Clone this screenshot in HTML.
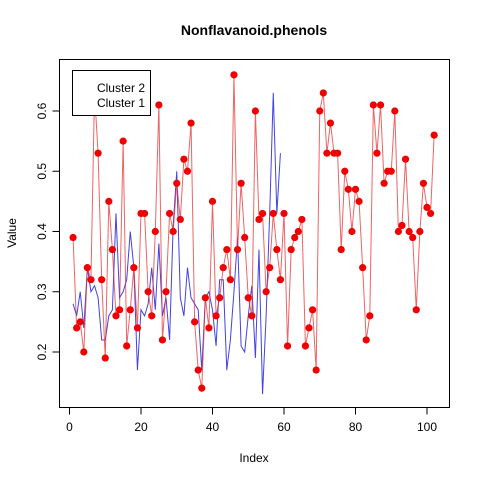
<!DOCTYPE html>
<html><head><meta charset="utf-8"><style>
html,body{margin:0;padding:0;background:#fff;}
svg{display:block;font-family:"Liberation Sans",Arial,sans-serif;}
</style></head><body>
<svg id="chart" width="480" height="480" viewBox="0 0 480 480">
<rect x="0" y="0" width="480" height="480" fill="#fff"/>
<text x="254" y="35" text-anchor="middle" font-size="14" font-weight="bold">Nonflavanoid.phenols</text>
<text x="254" y="462" text-anchor="middle" font-size="12">Index</text>
<text transform="translate(16,233) rotate(-90)" text-anchor="middle" font-size="12">Value</text>
<g id="xaxis"></g>
<g id="yaxis"></g>
<g id="series"></g>
<rect x="59.5" y="59.5" width="390" height="348" fill="none" stroke="#000" stroke-width="1"/>
<g>
<rect x="72.5" y="70.5" width="78" height="45" fill="#fff" stroke="#000"/>
<text x="145" y="92" text-anchor="end" font-size="12">Cluster 2</text>
<text x="145" y="107" text-anchor="end" font-size="12">Cluster 1</text>
</g>
</svg>
<script>
const xTicks = [0, 20, 40, 60, 80, 100];
const yTicks = [0.2, 0.3, 0.4, 0.5, 0.6];
const cluster1Values = [0.28,0.26,0.30,0.24,0.34,0.30,0.31,0.29,0.22,0.22,0.26,0.27,0.43,0.29,0.30,0.32,0.40,0.34,0.17,0.27,0.26,0.28,0.34,0.27,0.38,0.26,0.29,0.22,0.41,0.50,0.29,0.26,0.34,0.29,0.28,0.27,0.17,0.29,0.30,0.27,0.21,0.32,0.32,0.17,0.22,0.30,0.39,0.21,0.20,0.26,0.31,0.19,0.37,0.13,0.26,0.43,0.63,0.43,0.53];
const cluster2Values = [0.39,0.24,0.25,0.20,0.34,0.32,0.63,0.53,0.32,0.19,0.45,0.37,0.26,0.27,0.55,0.21,0.27,0.34,0.24,0.43,0.43,0.30,0.26,0.40,0.61,0.22,0.30,0.43,0.40,0.48,0.42,0.52,0.50,0.58,0.25,0.17,0.14,0.29,0.24,0.45,0.26,0.29,0.34,0.37,0.32,0.66,0.37,0.48,0.39,0.29,0.26,0.60,0.42,0.43,0.30,0.34,0.43,0.37,0.32,0.43,0.21,0.37,0.39,0.40,0.42,0.21,0.24,0.27,0.17,0.60,0.63,0.53,0.58,0.53,0.53,0.37,0.50,0.47,0.40,0.47,0.45,0.34,0.22,0.26,0.61,0.53,0.61,0.48,0.50,0.50,0.60,0.40,0.41,0.52,0.40,0.39,0.27,0.40,0.48,0.44,0.43,0.56];
const NS='http://www.w3.org/2000/svg';
function xs(i){return 69.5+i*3.575;}
function ys(v){return 352-(v-0.2)*602.5;}
function mk(tag,attrs,parent){const e=document.createElementNS(NS,tag);for(const k in attrs)e.setAttribute(k,attrs[k]);parent.appendChild(e);return e;}
const xa=document.getElementById('xaxis'),ya=document.getElementById('yaxis'),sg=document.getElementById('series');
mk('line',{x1:xs(0),x2:xs(100),y1:407.5,y2:407.5,stroke:'#000'},xa);
xTicks.forEach(t=>{
  const l=mk('line',{x1:xs(t),x2:xs(t),y1:407.5,y2:414.5,stroke:'#000'},xa);
  
  
  const tx=mk('text',{x:xs(t),y:431,'text-anchor':'middle','font-size':12},xa);
  tx.textContent=t;
  
  
});
mk('line',{x1:59.5,x2:59.5,y1:ys(0.2),y2:ys(0.6),stroke:'#000'},ya);
yTicks.forEach(t=>{
  const l=mk('line',{x1:52.5,x2:59.5,y1:ys(t),y2:ys(t),stroke:'#000'},ya);
  
  
  const tx=mk('text',{transform:`translate(46,${ys(t)}) rotate(-90)`,'text-anchor':'middle','font-size':12},ya);
  tx.textContent=t.toFixed(1);
  
  
});
const bl=mk('polyline',{points:cluster1Values.map((v,i)=>xs(i+1)+','+ys(v)).join(' '),fill:'none',stroke:'#2222dd','stroke-opacity':0.85,'stroke-width':1},sg);


const rl=mk('polyline',{points:cluster2Values.map((v,i)=>xs(i+1)+','+ys(v)).join(' '),fill:'none',stroke:'#e83030','stroke-opacity':0.75,'stroke-width':1},sg);


cluster2Values.forEach((v,i)=>{
  const c=mk('circle',{cx:xs(i+1),cy:ys(v),r:3.6,fill:'#f00000'},sg);
  
  
});
</script>
</body></html>
